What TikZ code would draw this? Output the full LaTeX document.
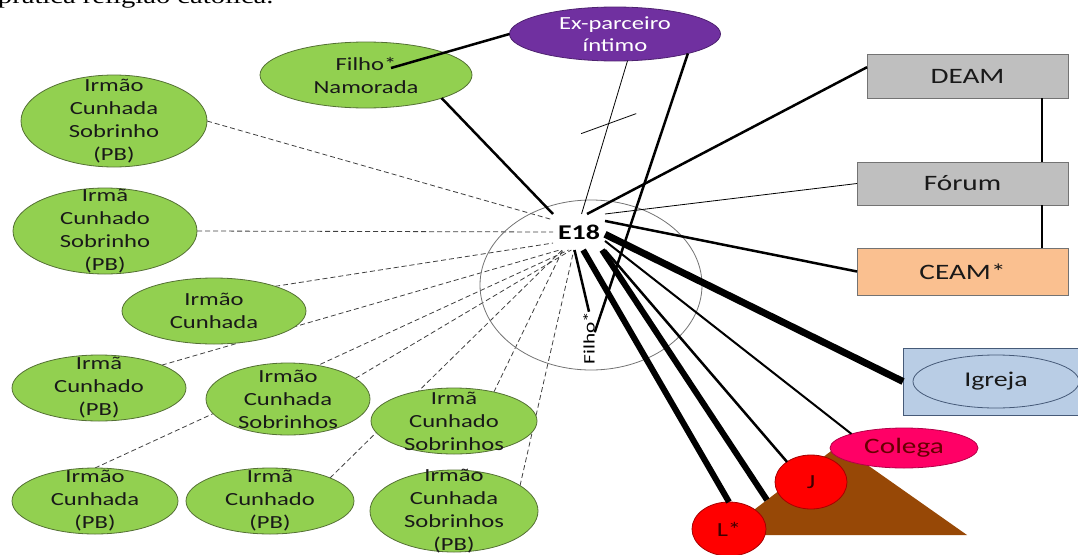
\documentclass[tikz,border=0pt]{standalone}
\usepackage{fontspec}
\setmainfont{Carlito}[FakeStretch=1.33]
\newfontfamily\serifrm{Liberation Serif}[FakeStretch=1.3]
\usetikzlibrary{shapes.geometric,backgrounds}

\definecolor{verde}{RGB}{146,208,80}
\definecolor{verdeborda}{RGB}{84,112,52}
\definecolor{roxo}{RGB}{112,48,160}
\definecolor{cinza}{RGB}{191,191,191}
\definecolor{laranja}{RGB}{250,192,144}
\definecolor{azul}{RGB}{185,205,229}
\definecolor{azulborda}{RGB}{70,90,120}
\definecolor{rosa}{RGB}{255,0,102}
\definecolor{marrom}{RGB}{151,72,6}

\begin{document}
\begin{tikzpicture}[x=1pt,y=-1pt,
  every node/.style={inner sep=0pt,outer sep=0pt},
  verdeel/.style={ellipse,draw=verdeborda,fill=verde,line width=0.8pt},
  txt/.style={align=center,text=black!90,font=\fontsize{18.5}{23}\selectfont},
  caixa/.style={rectangle,draw=black!55,line width=0.8pt,minimum width=211pt,
    text=black!90,font=\fontsize{22}{26}\selectfont},
  bola/.style={ellipse,draw=red!65!black,fill=red,line width=0.8pt,
    text=black!75!red,font=\fontsize{20}{24}\selectfont},
  fino/.style={line width=0.8pt},
  medio/.style={line width=2.5pt},
  grosso/.style={line width=6pt},
  tracej/.style={line width=0.8pt,black!75,dash pattern=on 5pt off 3pt}]
\useasboundingbox (0,0) rectangle (1078,554);

% text above the figure (cut off)
\node[anchor=base west,font=\serifrm\fontsize{22}{26}\selectfont] (topo) at (-2,4) {prática religião católica.};

% E18 and its circle
\node[ellipse,draw=black!55,line width=0.8pt,minimum width=222pt,minimum height=170pt] (zona) at (591,285) {};
\node[font=\bfseries\fontsize{21}{24}\selectfont,minimum width=52pt,minimum height=36pt] (e18) at (579,232) {E18};
\node[rotate=90,font=\fontsize{16}{18}\selectfont] (filho) at (589,338) {Filho*};

% family
\node[verdeel,minimum width=212pt,minimum height=66pt,label={[txt]center:Filho*\\Namorada}] (namor) at (366,75) {};
\coordinate (filhoN) at (391,68);
\node[verdeel,minimum width=186pt,minimum height=92pt,label={[txt]center:Irmão\\Cunhada\\Sobrinho\\(PB)}] (irA) at (114,121) {};
\node[verdeel,minimum width=184pt,minimum height=86pt,label={[txt]center:Irmã\\Cunhado\\Sobrinho\\(PB)}] (irB) at (105,231) {};
\node[verdeel,minimum width=184pt,minimum height=66pt,label={[txt]center:Irmão\\Cunhada}] (irC) at (214,311) {};
\node[verdeel,minimum width=174pt,minimum height=66pt,label={[txt]center:Irmã\\Cunhado\\(PB)}] (irD) at (99,388) {};
\node[verdeel,minimum width=164pt,minimum height=72pt,label={[txt]center:Irmão\\Cunhada\\Sobrinhos}] (irE) at (288,399) {};
\node[verdeel,minimum width=166pt,minimum height=66pt,label={[txt]center:Irmão\\Cunhada\\(PB)}] (irF) at (95,501) {};
\node[verdeel,minimum width=168pt,minimum height=66pt,label={[txt]center:Irmã\\Cunhado\\(PB)}] (irG) at (270,501) {};
\node[verdeel,minimum width=166pt,minimum height=66pt,label={[txt]center:Irmã\\Cunhado\\Sobrinhos}] (irH) at (454,421) {};
\node[verdeel,minimum width=168pt,minimum height=82pt,label={[txt]center:Irmão\\Cunhada\\Sobrinhos\\(PB)}] (irI) at (454,511) {};
\node[ellipse,draw=roxo!70!black,fill=roxo,line width=0.8pt,minimum width=211pt,minimum height=54pt,
  label={[txt,text=white,font=\fontsize{18.5}{22}\selectfont]center:Ex-parceiro\\íntimo}] (expar) at (615,34) {};

% institutions
\node[caixa,fill=cinza,minimum width=201pt,minimum height=44pt] (deam) at (967.5,76) {DEAM};
\node[caixa,fill=cinza,minimum height=43pt] (forum) at (962.5,183.5) {Fórum};
\node[caixa,fill=laranja,minimum height=47pt] (ceam) at (962.5,271.5) {CEAM*};
\node[rectangle,draw=azulborda,fill=azul,line width=0.8pt,minimum width=180pt,minimum height=67pt] (igreja) at (993,381.5) {};
\node[ellipse,draw=azulborda,line width=0.8pt,minimum width=166pt,minimum height=53pt,
  text=black!90,font=\fontsize{21}{24}\selectfont] (igr) at (996,381.5) {Igreja};

% work
\fill[marrom] (721,535) -- (839,445) -- (967,535) -- cycle;
\coordinate (grupo) at (767,500);
\node[ellipse,draw=rosa!70!black,fill=rosa,line width=0.8pt,minimum width=148pt,minimum height=40pt,
  text=black!60!red,font=\fontsize{22}{26}\selectfont] (colega) at (904,448) {Colega};
\node[bola,minimum width=72pt,minimum height=54pt] (jj) at (811,482) {J};
\node[bola,minimum width=74pt,minimum height=54pt] (lstar) at (729,529) {L*};

% ties
\draw[medio] (namor.-17) -- (e18.north west);
\draw[medio] (filhoN) -- (expar.west);
\draw[medio] (expar.-15) -- (filho.-45);
\draw[fino] (expar.-65) -- coordinate[pos=0.41] (corte) (e18.82);
\draw[fino] (corte) +(-27.5,10) -- +(27.5,-10);
\draw[medio] (e18.66) -- (deam.175);
\draw[fino] (e18.north east) -- (forum.west);
\draw[medio] (e18.23) -- (ceam.west);
\draw[line width=7pt] (e18.-5) -- (igreja.west);
\draw[line width=2pt] (e18.-19) -- (colega.165);
\draw[medio] (e18.south east) -- (jj.140);
\draw[grosso] (e18.-77) -- (lstar.north);
\draw[grosso] (e18.-38) -- (grupo);
\draw[medio] (e18.-104) -- (filho.east);
\draw[medio] ([xshift=-26pt]deam.south east) -- ([xshift=-26pt]forum.north east);
\draw[medio] ([xshift=-26pt]forum.south east) -- ([xshift=-26pt]ceam.north east);

% weak ties, behind the ellipses
\begin{scope}[on background layer]
\foreach \no/\de/\ate in {irA/east/155, irB/east/180, irC/22/203, irD/20/223,
    irE/17/247, irF/north/240, irG/21/227, irH/36/228, irI/21/254} {
  \draw[tracej] (\no.\de) -- (e18.\ate);
}
\end{scope}
\end{tikzpicture}
\end{document}
